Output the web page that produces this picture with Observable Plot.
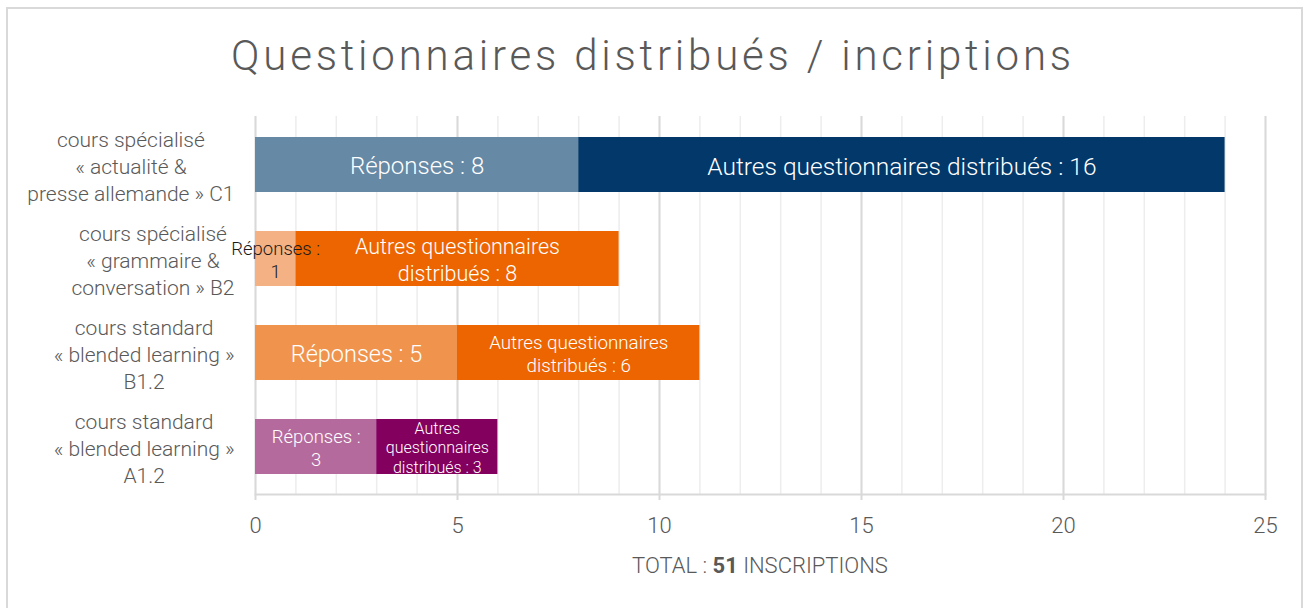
<!DOCTYPE html>
<html>
<head>
<meta charset="utf-8">
<script src="https://cdn.jsdelivr.net/npm/d3@7"></script>
<script src="https://cdn.jsdelivr.net/npm/@observablehq/plot@0.6"></script>
<style>
  html, body { margin: 0; padding: 0; background: #fff; overflow: hidden; }
  body { width: 1306px; height: 608px; position: relative; font-family: "Roboto", sans-serif; }
  #frame { position: absolute; left: 6px; top: 7px; width: 1297px; height: 640px; border: 2px solid #d9d9d9; box-sizing: border-box; pointer-events: none; }
  #title { position: relative; height: 100px; box-sizing: border-box; padding-top: 35px; text-align: center; font-size: 42px; line-height: 42px; font-weight: 300; color: #595959; white-space: nowrap; }
  #chart { position: relative; height: 445px; }
  #caption { position: relative; margin-left: 255px; margin-top: 9px; width: 1010px; text-align: center; font-size: 22px; font-weight: 300; color: #595959; line-height: 24px; }
  #caption b { font-weight: 700; }
</style>
</head>
<body>
<div id="frame"></div>
<div id="title">Questionnaires distribués / incriptions</div>
<div id="chart"></div>
<div id="caption">TOTAL : <b>51</b> INSCRIPTIONS</div>
<script>
// ---- data ----
const categories = [
  "cours spécialisé\n« actualité &\npresse allemande » C1",
  "cours spécialisé\n« grammaire &\nconversation » B2",
  "cours standard\n« blended learning »\nB1.2",
  "cours standard\n« blended learning »\nA1.2"
];
const reponses = [8, 1, 5, 3];
const autres = [16, 8, 6, 3];
const xTicks = [0, 5, 10, 15, 20, 25];

// ---- styles (not data) ----
const repColors = ["#6689a6", "#f4b183", "#f0944d", "#b46a9c"];
const autColors = ["#02386a", "#ec6500", "#ec6500", "#83005f"];
const repTextColors = ["#ffffff", "#1a1a1a", "#ffffff", "#ffffff"];
const repSizes = [24, 18.5, 23.5, 18.5];
const autSizes = [24.5, 21.5, 18.8, 16];
const repWrap = [0, 1, 0, 1];
const autWrap = [0, 1, 1, 2];

function repLabel(v, w) { return w ? `Réponses :\n${v}` : `Réponses : ${v}`; }
function autLabel(v, w) {
  if (w === 0) return `Autres questionnaires distribués : ${v}`;
  if (w === 1) return `Autres questionnaires\ndistribués : ${v}`;
  return `Autres\nquestionnaires\ndistribués : ${v}`;
}

const segments = [];
categories.forEach((c, i) => {
  segments.push({cat: c, series: "Réponses", value: reponses[i], fill: repColors[i], tfill: repTextColors[i], size: repSizes[i], label: repLabel(reponses[i], repWrap[i])});
  segments.push({cat: c, series: "Autres", value: autres[i], fill: autColors[i], tfill: "#ffffff", size: autSizes[i], label: autLabel(autres[i], autWrap[i])});
});

// title letter-spacing to match width
const canvas = document.createElement("canvas");
const ctx = canvas.getContext("2d");
const titleEl = document.getElementById("title");
ctx.font = "300 42px Roboto";
const tw = ctx.measureText(titleEl.textContent).width;
titleEl.style.letterSpacing = ((840 - tw) / (titleEl.textContent.length - 1)) + "px";

// y label offsets: center each block within its widest line
const yFont = 21;
ctx.font = `300 ${yFont}px Roboto`;
const yLabelMarks = categories.map(c => {
  const maxW = d3.max(c.split("\n"), l => ctx.measureText(l).width);
  return Plot.text([c], {
    y: d => d, text: d => d, frameAnchor: "left",
    textAnchor: "middle", dx: -21 - maxW / 2, dy: 0,
    lineHeight: 1.29, fontSize: yFont, fill: "#595959"
  });
});

const chart = Plot.plot({
  width: 1306,
  height: 445,
  marginLeft: 255,
  marginRight: 41,
  marginTop: 16,
  marginBottom: 51,
  style: {fontFamily: "Roboto", fontWeight: 300, background: "transparent"},
  x: {domain: [0, 25]},
  y: {domain: categories, paddingInner: 0.42, paddingOuter: 0.21, axis: null},
  marks: [
    Plot.gridX({ticks: d3.range(0, 26), stroke: "#ededed", strokeOpacity: 1, strokeWidth: 1.5}),
    Plot.gridX({ticks: xTicks, stroke: "#d9d9d9", strokeOpacity: 1, strokeWidth: 2}),
    Plot.frame({anchor: "bottom", stroke: "#d9d9d9", strokeWidth: 2}),
    Plot.axisX({ticks: xTicks, tickSize: 6, tickPadding: 17, fontSize: 22, stroke: "#d9d9d9", strokeWidth: 2, color: "#595959", label: null, tickFormat: d => String(d)}),
    Plot.barX(segments, Plot.stackX({x: "value", y: "cat", fill: "fill"})),
    Plot.text(segments, Plot.stackX({x: "value", y: "cat", text: "label", fill: "tfill", fontSize: "size", lineHeight: 1.22})),
    ...yLabelMarks
  ]
});
document.getElementById("chart").appendChild(chart);
</script>
</body>
</html>
